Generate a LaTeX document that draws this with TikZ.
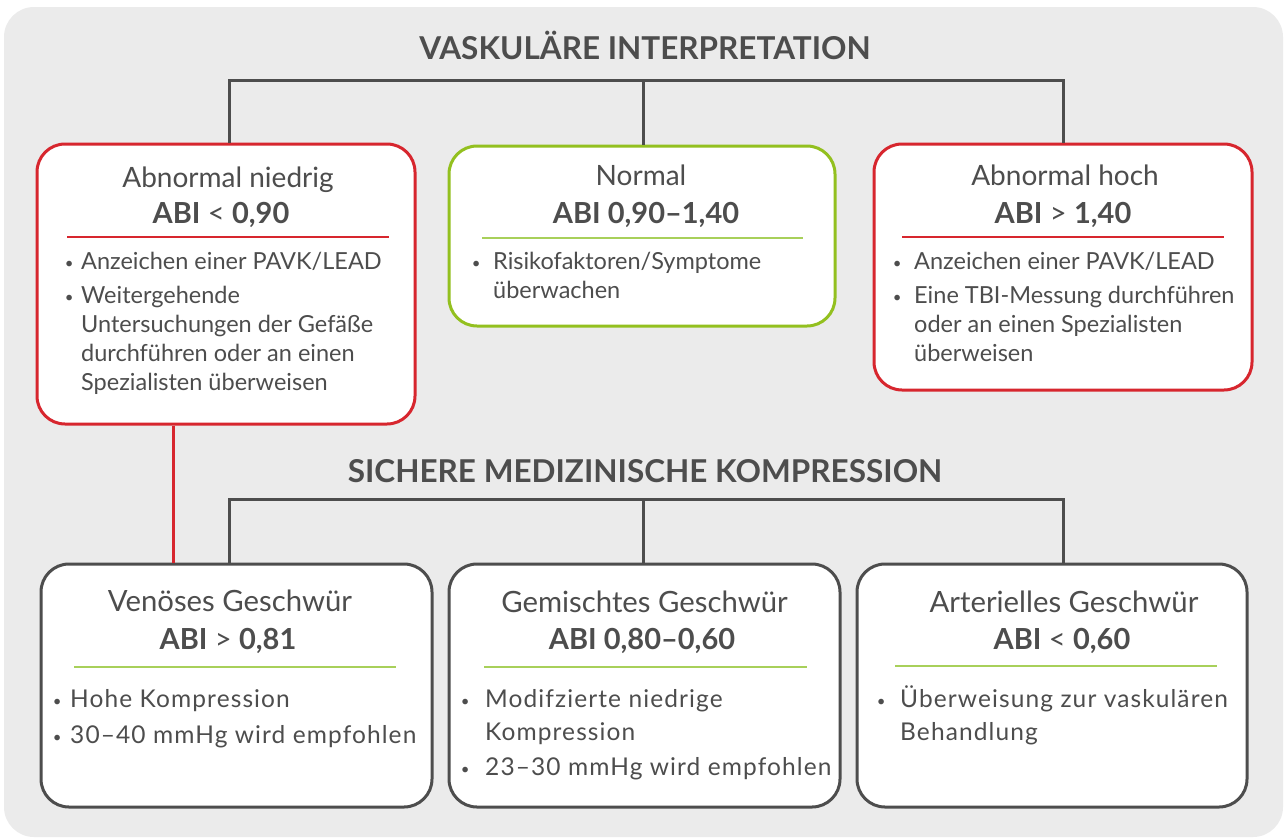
\documentclass[tikz,border=0pt]{standalone}
\usepackage{fontspec}
\setmainfont{Lato}
\usetikzlibrary{calc}
\definecolor{bg}{HTML}{EBEBEB}
\definecolor{txt}{HTML}{4D4D4D}
\definecolor{rd}{HTML}{D7262E}
\definecolor{gn}{HTML}{93C01F}
\definecolor{gnl}{HTML}{A8D05A}
\definecolor{ln}{HTML}{4D4D4D}
\newcommand{\bdot}{{\fontsize{15}{15}\selectfont\raisebox{1pt}{•}}}
\newcommand{\bitem}[2]{\makebox[0pt]{\bdot}\hspace{#1pt}\begin{tabular}[t]{@{}l@{}}#2\end{tabular}}
\begin{document}
\begin{tikzpicture}[x=1pt,y=-1pt,
  box/.style={draw, line width=3pt, fill=white, rounded corners=28pt, inner sep=0pt},
  redbox/.style={box, draw=rd},
  greenbox/.style={box, draw=gn},
  greybox/.style={box, draw=ln},
  conn/.style={draw=ln, line width=3pt},
  rconn/.style={draw=rd, line width=3pt},
  sep/.style={line width=1.3pt},
  ttl/.style={anchor=base, inner sep=0pt, text=txt, font=\bfseries\fontsize{31.5}{34}\selectfont},
  hd/.style={anchor=base, inner sep=0pt, text=txt, font=\fontsize{28}{30}\selectfont},
  hdb/.style={anchor=base, inner sep=0pt, text=txt, font=\fontsize{29.3}{30}\selectfont},
  abi/.style={anchor=base, inner sep=0pt, text=txt, font=\fontsize{29}{30}\selectfont},
  itm/.style={anchor=base west, inner sep=0pt, text=txt, font=\fontsize{23.5}{29}\selectfont},
  itmb/.style={anchor=base west, inner sep=0pt, text=txt, font=\fontsize{24.5}{33}\selectfont\addfontfeature{LetterSpace=4.5}},
]
\useasboundingbox (0,0) rectangle (1285,839);
\fill[bg, rounded corners=30pt] (4,7) rectangle (1283,837);

% titles
\node[ttl] (t1) at (645,59) {VASKULÄRE INTERPRETATION};
\node[ttl] (t2) at (645,482) {SICHERE MEDIZINISCHE KOMPRESSION};

% top boxes
\node[redbox, minimum width=378pt, minimum height=280pt] (b1) at (226,284) {};
\node[greenbox, minimum width=386pt, minimum height=180pt] (b2) at (642,236) {};
\node[redbox, minimum width=378pt, minimum height=246pt] (b3) at (1063,267) {};
% bottom boxes
\node[greybox, minimum width=391pt, minimum height=243pt] (b4) at (236.5,685.5) {};
\node[greybox, minimum width=391pt, minimum height=243pt] (b5) at (644.5,685.5) {};
\node[greybox, minimum width=390pt, minimum height=243pt] (b6) at (1052,685.5) {};

% connectors
\coordinate (h1L) at (229,80);
\coordinate (h1M) at (643,80);
\coordinate (h1R) at (1063,80);
\draw[conn] (h1L |- b1.north) -- (h1L) -- (h1R) -- (h1R |- b3.north);
\draw[conn] (h1M) -- (h1M |- b2.north);
\coordinate (h2L) at (229,499);
\coordinate (h2M) at (643,499);
\coordinate (h2R) at (1063,499);
\draw[conn] (h2L |- b4.north) -- (h2L) -- (h2R) -- (h2R |- b6.north);
\draw[conn] (h2M) -- (h2M |- b5.north);
\coordinate (rc) at (173,424);
\draw[rconn] (rc |- b1.south) -- (rc |- b4.north);

% box 1
\node[hd] (b1h) at (228,187) {Abnormal niedrig};
\node[abi] (b1a) at (221,223) {\textbf{ABI} < \textbf{0,90}};
\draw[sep, rd] (67,237) -- (389,237);
\node[itm] (b1i1) at (69,269) {\bitem{12}{Anzeichen einer PAVK/LEAD}};
\node[itm] (b1i2) at (69,303) {\bitem{12}{Weitergehende\\Untersuchungen der Gefäße\\durchführen oder an einen\\Spezialisten überweisen}};

% box 2
\node[hd] (b2h) at (641,185) {Normal};
\node[abi] (b2a) at (646,223) {\textbf{ABI 0,90–1,40}};
\draw[sep, gnl] (482,238) -- (803,238);
\node[itm] (b2i1) at (476,269) {\bitem{17}{Risikofaktoren/Symptome\\überwachen}};

% box 3
\node[hd] (b3h) at (1065,185) {Abnormal hoch};
\node[abi] (b3a) at (1063,223) {\textbf{ABI} > \textbf{1,40}};
\draw[sep, rd] (902,237) -- (1224,237);
\node[itm] (b3i1) at (897,269) {\bitem{17}{Anzeichen einer PAVK/LEAD}};
\node[itm] (b3i2) at (897,303) {\bitem{17}{Eine TBI-Messung durchführen\\oder an einen Spezialisten\\überweisen}};

% box 4
\node[hdb] (b4h) at (230,611) {Venöses Geschwür};
\node[abi] (b4a) at (228,649) {\textbf{ABI} > \textbf{0,81}};
\draw[sep, gnl] (74,667) -- (396,667);
\node[itmb] (b4i1) at (57,707) {\bitem{13}{Hohe Kompression}};
\node[itmb] (b4i2) at (57,743) {\bitem{13}{30–40 mmHg wird empfohlen}};

% box 5
\node[hdb] (b5h) at (644.5,612) {Gemischtes Geschwür};
\node[abi] (b5a) at (642,649) {\textbf{ABI 0,80–0,60}};
\draw[sep, gnl] (484,667) -- (807,667);
\node[itmb] (b5i1) at (465,707) {\bitem{20}{Modifzierte niedrige\\Kompression}};
\node[itmb] (b5i2) at (465,775) {\bitem{20}{23–30 mmHg wird empfohlen}};

% box 6
\node[hdb] (b6h) at (1064,612) {Arterielles Geschwür};
\node[abi] (b6a) at (1062,649) {\textbf{ABI} < \textbf{0,60}};
\draw[sep, gnl] (895,666) -- (1217,666);
\node[itmb] (b6i1) at (881,707) {\bitem{19}{Überweisung zur vaskulären\\Behandlung}};
\end{tikzpicture}
\end{document}
